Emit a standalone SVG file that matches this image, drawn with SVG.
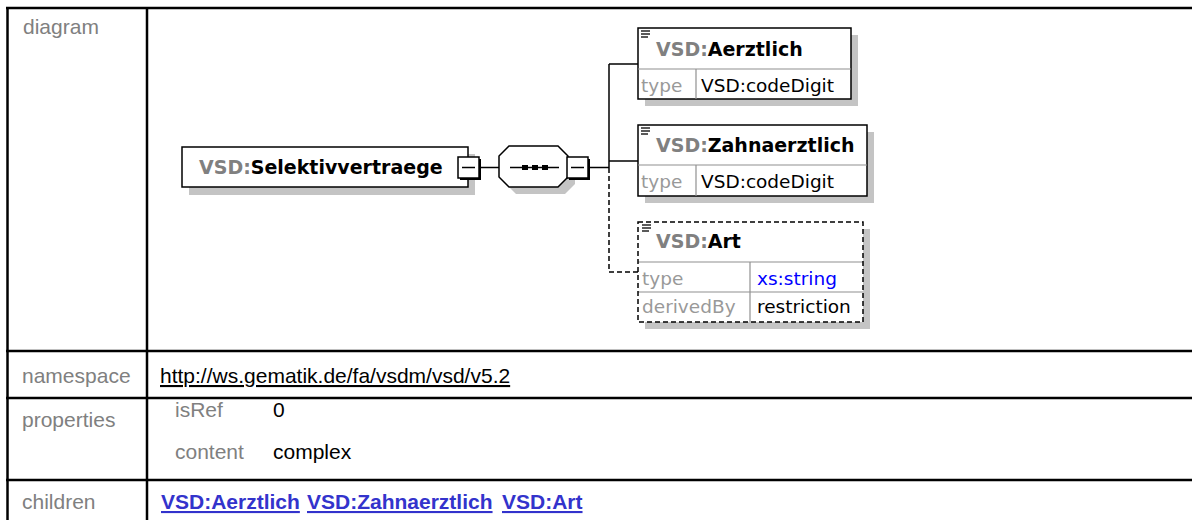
<svg xmlns="http://www.w3.org/2000/svg" width="1192" height="520" viewBox="0 0 1192 520">
<style>
.tl{stroke:#000;stroke-width:2.5;fill:none}
.lab{font-family:"Liberation Sans",Arial,sans-serif;font-size:21px;fill:#808080}
.val{font-family:"Liberation Sans",Arial,sans-serif;font-size:21px;fill:#000}
.lnk{font-family:"Liberation Sans",Arial,sans-serif;font-size:21px;font-weight:bold;fill:#3333cc;text-decoration:underline}
.sh{fill:#c4c4c4}
.box{fill:#fff;stroke:#000;stroke-width:1.5}
.dbox{fill:none;stroke:#000;stroke-width:1.5;stroke-dasharray:5 3}
.nm{font-family:"DejaVu Sans",Verdana,sans-serif;font-size:19px;font-weight:bold;fill:#000}
.pre{fill:#808080}
.sm{font-family:"DejaVu Sans",Verdana,sans-serif;font-size:18.5px;fill:#000}
.gr{fill:#999}
.blue{fill:#0000ff}
.div{stroke:#909090;stroke-width:1.2;fill:none}
.con{stroke:#000;stroke-width:1.5;fill:none}
.dcon{stroke:#000;stroke-width:1.5;fill:none;stroke-dasharray:5 3}
.ic{stroke:#000;stroke-width:1.3}
</style>
<rect width="1192" height="520" fill="#fff"/>
<g id="table">
<line class="tl" x1="6" y1="8" x2="1192" y2="8"/>
<line class="tl" x1="7.5" y1="7" x2="7.5" y2="520"/>
<line class="tl" x1="147" y1="7" x2="147" y2="520"/>
<line class="tl" x1="6" y1="351" x2="1192" y2="351"/>
<line class="tl" x1="6" y1="398" x2="1192" y2="398"/>
<line class="tl" x1="6" y1="480" x2="1192" y2="480"/>
<text class="lab" x="23" y="34">diagram</text>
<text class="lab" x="22" y="383">namespace</text>
<text class="val" x="160" y="383" text-decoration="underline">http://ws.gematik.de/fa/vsdm/vsd/v5.2</text>
<text class="lab" x="22" y="427">properties</text>
<text class="lab" x="175" y="417">isRef</text>
<text class="val" x="273" y="417">0</text>
<text class="lab" x="175" y="459">content</text>
<text class="val" x="273" y="459">complex</text>
<text class="lab" x="22" y="509">children</text>
<text class="lnk" x="161" y="509">VSD:Aerztlich</text>
<text class="lnk" x="307" y="509">VSD:Zahnaerztlich</text>
<text class="lnk" x="502" y="509">VSD:Art</text>
</g>
<g id="connectors">
<line class="con" x1="480" y1="167.5" x2="499" y2="167.5"/>
<line class="con" x1="589" y1="167.5" x2="609" y2="167.5"/>
<line class="con" x1="609" y1="64" x2="609" y2="168"/>
<line class="con" x1="609" y1="64" x2="638" y2="64"/>
<line class="con" x1="609" y1="161" x2="638" y2="161"/>
<polyline class="dcon" points="609,168 609,272 638,272"/>
</g>
<g id="node-root">
<rect class="sh" x="189" y="154" width="286" height="41"/>
<rect class="box" x="182" y="147" width="286" height="40"/>
<text class="nm" x="199" y="174"><tspan class="pre">VSD:</tspan>Selektivvertraege</text>
<rect x="460" y="159" width="21" height="21" fill="#000"/>
<rect class="box" x="458" y="157" width="21" height="21"/>
<line class="con" x1="462" y1="167.5" x2="475" y2="167.5"/>
</g>
<g id="node-sequence">
<polygon class="sh" points="516,153 565,153 575,163 575,184 565,194 516,194 506,184 506,163"/>
<polygon class="box" points="509,146 558,146 568,156 568,177 558,187 509,187 499,177 499,156"/>
<line class="con" x1="510" y1="167.5" x2="559" y2="167.5"/>
<rect x="522" y="165" width="6" height="5" fill="#000"/>
<rect x="532" y="165" width="6" height="5" fill="#000"/>
<rect x="542" y="165" width="6" height="5" fill="#000"/>
<rect x="569" y="159" width="21" height="21" fill="#000"/>
<rect class="box" x="567" y="157" width="21" height="21"/>
<line class="con" x1="571" y1="167.5" x2="584" y2="167.5"/>
</g>
<g id="node-aerztlich">
<rect class="sh" x="645" y="35" width="213" height="71"/>
<rect class="box" x="638" y="28" width="213" height="71"/>
<line class="ic" x1="641" y1="31" x2="650" y2="31"/><line class="ic" x1="641" y1="34" x2="650" y2="34"/><line class="ic" x1="641" y1="37" x2="648" y2="37"/>
<text class="nm" x="656" y="56"><tspan class="pre">VSD:</tspan>Aerztlich</text>
<line class="div" x1="638" y1="69" x2="851" y2="69"/>
<line class="div" x1="696" y1="69" x2="696" y2="99"/>
<text class="sm gr" x="641" y="92">type</text>
<text class="sm" x="701" y="92">VSD:codeDigit</text>
</g>
<g id="node-zahnaerztlich">
<rect class="sh" x="645" y="132" width="229" height="71"/>
<rect class="box" x="638" y="125" width="229" height="71"/>
<line class="ic" x1="641" y1="128" x2="650" y2="128"/><line class="ic" x1="641" y1="131" x2="650" y2="131"/><line class="ic" x1="641" y1="134" x2="648" y2="134"/>
<text class="nm" x="656" y="152"><tspan class="pre">VSD:</tspan>Zahnaerztlich</text>
<line class="div" x1="638" y1="165" x2="867" y2="165"/>
<line class="div" x1="696" y1="165" x2="696" y2="196"/>
<text class="sm gr" x="641" y="188">type</text>
<text class="sm" x="701" y="188">VSD:codeDigit</text>
</g>
<g id="node-art">
<rect class="sh" x="645" y="229" width="225" height="100"/>
<rect x="638" y="222" width="225" height="100" fill="#fff"/>
<line class="div" x1="638" y1="262" x2="863" y2="262"/>
<line class="div" x1="638" y1="292" x2="863" y2="292"/>
<line class="div" x1="750" y1="262" x2="750" y2="322"/>
<rect class="dbox" x="638" y="222" width="225" height="100"/>
<line class="ic" x1="642" y1="225" x2="651" y2="225"/><line class="ic" x1="642" y1="228" x2="651" y2="228"/><line class="ic" x1="642" y1="231" x2="649" y2="231"/>
<text class="nm" x="656" y="248"><tspan class="pre">VSD:</tspan>Art</text>
<text class="sm gr" x="642" y="285">type</text>
<text class="sm blue" x="757" y="285">xs:string</text>
<text class="sm gr" x="642" y="313">derivedBy</text>
<text class="sm" x="757" y="313">restriction</text>
</g>
</svg>
